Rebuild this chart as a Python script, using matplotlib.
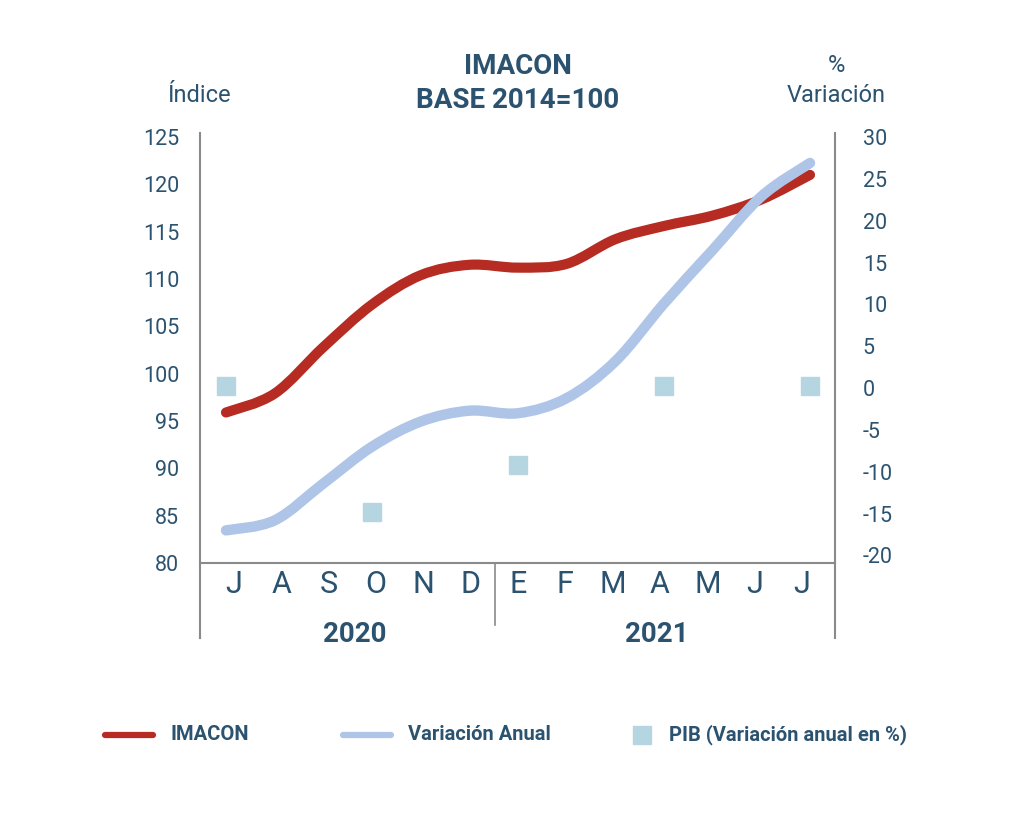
import matplotlib
matplotlib.use("Agg")
import matplotlib.pyplot as plt
from matplotlib.path import Path
from matplotlib.patches import PathPatch
from matplotlib.lines import Line2D
import numpy as np

# data (Jul 2020 .. Jul 2021)
months = ["J", "A", "S", "O", "N", "D", "E", "F", "M", "A", "M", "J", "J"]
years = ["2020", "2021"]
imacon = [95.9, 97.9, 102.8, 107.3, 110.4, 111.5, 111.2, 111.6, 114.2, 115.6, 116.7, 118.4, 121.0]
variacion = [-17.0, -15.8, -11.4, -7.0, -4.0, -2.7, -3.0, -1.2, 3.2, 10.1, 16.5, 22.9, 26.9]
pib_month = [0, 3, 6, 9, 12]
pib = [0.3, -14.8, -9.2, 0.3, 0.3]
left_ticks = [80, 85, 90, 95, 100, 105, 110, 115, 120, 125]
right_ticks = [-20, -15, -10, -5, 0, 5, 10, 15, 20, 25, 30]

TXT = "#2b5370"
RED = "#b62b22"
BLUE = "#aec5e8"
SQ = "#b5d6e1"
GRID = "#8a8a8a"
W, H = 1024, 814


def px(x, y):
    return x / W, 1 - y / H


def smooth_path(xs, ys):
    # catmull-rom style bezier, like a "smoothed line" in a spreadsheet
    pts = np.column_stack([xs, ys]).astype(float)
    ext = np.vstack([pts[0], pts, pts[-1]])
    verts = [pts[0]]
    codes = [Path.MOVETO]
    for i in range(1, len(ext) - 2):
        p0, p1, p2, p3 = ext[i - 1], ext[i], ext[i + 1], ext[i + 2]
        c1 = p1 + (p2 - p0) / 6
        c2 = p2 - (p3 - p1) / 6
        verts += [c1, c2, p2]
        codes += [Path.CURVE4] * 3
    return Path(verts, codes)


plt.rcParams["font.family"] = ["Roboto", "DejaVu Sans"]

fig = plt.figure(figsize=(W / 100, H / 100), dpi=100)
fig.patch.set_facecolor("white")
ax = fig.add_axes([200 / W, (H - 563) / H, 635 / W, 426 / H])
ax2 = ax.twinx()

x = np.arange(len(months))
ax.add_patch(PathPatch(smooth_path(x, imacon), fill=False, edgecolor=RED,
                       lw=7.3, capstyle="round", joinstyle="round"))
ax2.add_patch(PathPatch(smooth_path(x, variacion), fill=False, edgecolor=BLUE,
                        lw=7.5, capstyle="round", joinstyle="round"))
ax2.plot(pib_month, pib, ls="none", marker="s", ms=12.5, color=SQ, mec=SQ)

# x: first point at 226px, last at 810px
step = (810 - 226) / 12
ax.set_xlim(-(226 - 200) / step, 12 + (835 - 810) / step)
ax.set_ylim(80.4, 125)
ax2.set_ylim(30 - 426 / 8.37, 30)

for a in (ax, ax2):
    for s in a.spines.values():
        s.set_visible(False)
    a.tick_params(length=0)

ax.set_yticks(left_ticks)
ax.set_yticklabels([str(t) for t in left_ticks], fontsize=15.5, color=TXT)
ax.tick_params(axis="y", pad=15)
ax2.set_yticks(right_ticks)
ax2.set_yticklabels([str(t) for t in right_ticks], fontsize=15.5, color=TXT)
ax2.tick_params(axis="y", pad=20)

lab_pos = [(234 - 226) / step + i * (802 - 234) / 12 / step for i in range(len(months))]
ax.set_xticks(lab_pos)
ax.set_xticklabels(months, fontsize=22, color=TXT)
ax.tick_params(axis="x", pad=5)

# frame lines
fig.add_artist(Line2D([200 / W, 200 / W], [1 - 133 / H, 1 - 638 / H], color=GRID, lw=1.5))
fig.add_artist(Line2D([835 / W, 835 / W], [1 - 133 / H, 1 - 638 / H], color=GRID, lw=1.5))
fig.add_artist(Line2D([200 / W, 835 / W], [1 - 563 / H, 1 - 563 / H], color=GRID, lw=1.5))
fig.add_artist(Line2D([495 / W, 495 / W], [1 - 563 / H, 1 - 625 / H], color=GRID, lw=1.2))

fig.text(*px(355, 635), years[0], ha="center", va="center", fontsize=20,
         fontweight="bold", color=TXT)
fig.text(*px(657, 635), years[1], ha="center", va="center", fontsize=20,
         fontweight="bold", color=TXT)

fig.text(*px(518, 67), "IMACON", ha="center", va="center", fontsize=20,
         fontweight="bold", color=TXT)
fig.text(*px(518, 100), "BASE 2014=100", ha="center", va="center", fontsize=20,
         fontweight="bold", color=TXT)
fig.text(*px(200, 95), "Índice", ha="center", va="center", fontsize=17,
         color=TXT)
fig.text(*px(836, 65), "%", ha="center", va="center", fontsize=17,
         color=TXT)
fig.text(*px(836, 95), "Variación", ha="center", va="center", fontsize=17,
         color=TXT)

# legend
ly = 1 - 735 / H
fig.add_artist(Line2D([105 / W, 153 / W], [ly, ly], color=RED, lw=4.5, solid_capstyle="round"))
fig.text(*px(171, 735), "IMACON", ha="left", va="center", fontsize=14.5,
         fontweight="bold", color=TXT)
fig.add_artist(Line2D([343 / W, 391 / W], [ly, ly], color=BLUE, lw=4.5, solid_capstyle="round"))
fig.text(*px(408, 735), "Variación Anual", ha="left", va="center", fontsize=14.5,
         fontweight="bold", color=TXT)
fig.add_artist(Line2D([642 / W], [ly], marker="s", ms=13, color=SQ, ls="none"))
fig.text(*px(669, 735), "PIB (Variación anual en %)", ha="left", va="center",
         fontsize=14.5, fontweight="bold", color=TXT)

fig.savefig("out.png", dpi=100, facecolor="white")
